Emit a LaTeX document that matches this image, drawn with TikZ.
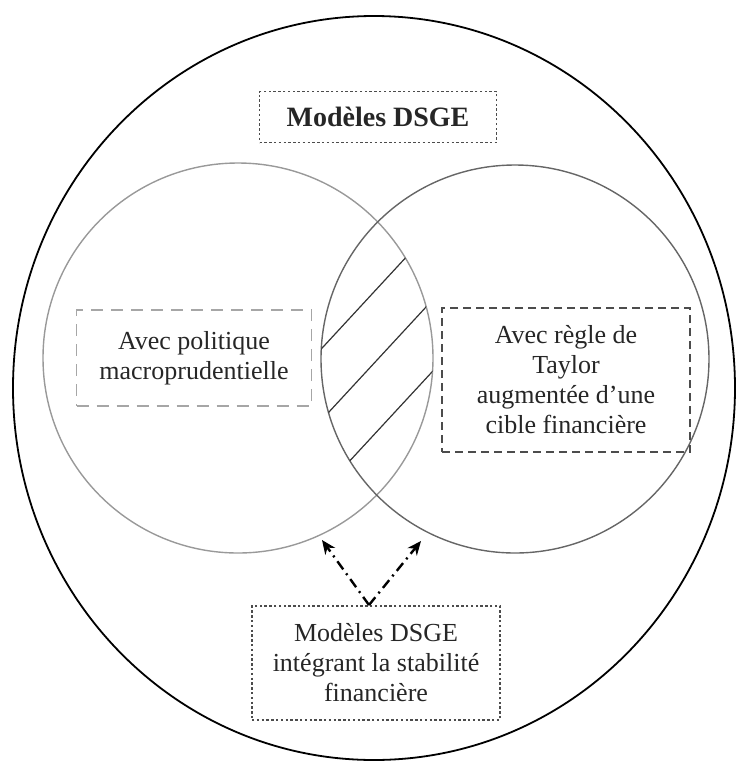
\documentclass[tikz,border=0pt]{standalone}
\usepackage{fontspec}
\setmainfont{Liberation Serif}
\usetikzlibrary{arrows.meta}
\begin{document}
\begin{tikzpicture}[x=0.5pt, y=-0.5pt,
	every node/.style={rectangle, align=center, inner sep=0pt, text=black!85, font=\fontsize{13}{15}\selectfont},
	dotbox/.style={draw=black!70, line width=0.6pt, dash pattern=on 1.2pt off 1.2pt},
	dashbox/.style={draw=black!70, line width=0.7pt, dash pattern=on 4pt off 2.5pt},
	lightbox/.style={draw=black!35, line width=0.7pt, dash pattern=on 6pt off 4pt},
	link/.style={-{Stealth[length=7pt, width=6pt]}, line width=1.2pt, dash pattern=on 5pt off 2.5pt on 1pt off 2.5pt}]
			\useasboundingbox (0,0) rectangle (739,762);
			% \draw[help lines] (0,0) grid (739,762);
			\draw[line width=0.9pt] (374,388) ellipse [x radius=180.5pt, y radius=186pt];
			\draw[black!40, line width=0.7pt] (238,358) circle [radius=97.5pt];
			\draw[black!60, line width=0.7pt] (515,359) circle [radius=97pt];

			\begin{scope}
				\clip (238,358) circle [radius=97.5pt];
				\clip (515,359) circle [radius=97pt];
				\foreach \a in {313,379,445}
					\draw[black!80, line width=0.6pt] (\a-185,558) -- (\a+231,108);
			\end{scope}

			\node[dotbox, minimum width=118.5pt, minimum height=25.5pt, font=\fontsize{14}{15}\selectfont\bfseries] (dsge) at (378,117) {Modèles DSGE};
			\node[lightbox, minimum width=117.5pt, minimum height=48pt] (macro) at (194,358) {Avec politique\\macroprudentielle};
			\node[dashbox, minimum width=124pt, minimum height=72pt] (taylor) at (566,380) {Avec règle de\\Taylor\\augmentée d’une\\cible financière};
			\node[dotbox, minimum width=124pt, minimum height=57pt] (fin) at (376,663) {Modèles DSGE\\intégrant la stabilité\\financière};

			\coordinate (apex) at (369,605);
			\coordinate (lefttip) at (322,540);
			\coordinate (righttip) at (421,541);
			\draw[link] (apex) -- (lefttip);
			\draw[link] (apex) -- (righttip);
		\end{tikzpicture}
\end{document}
